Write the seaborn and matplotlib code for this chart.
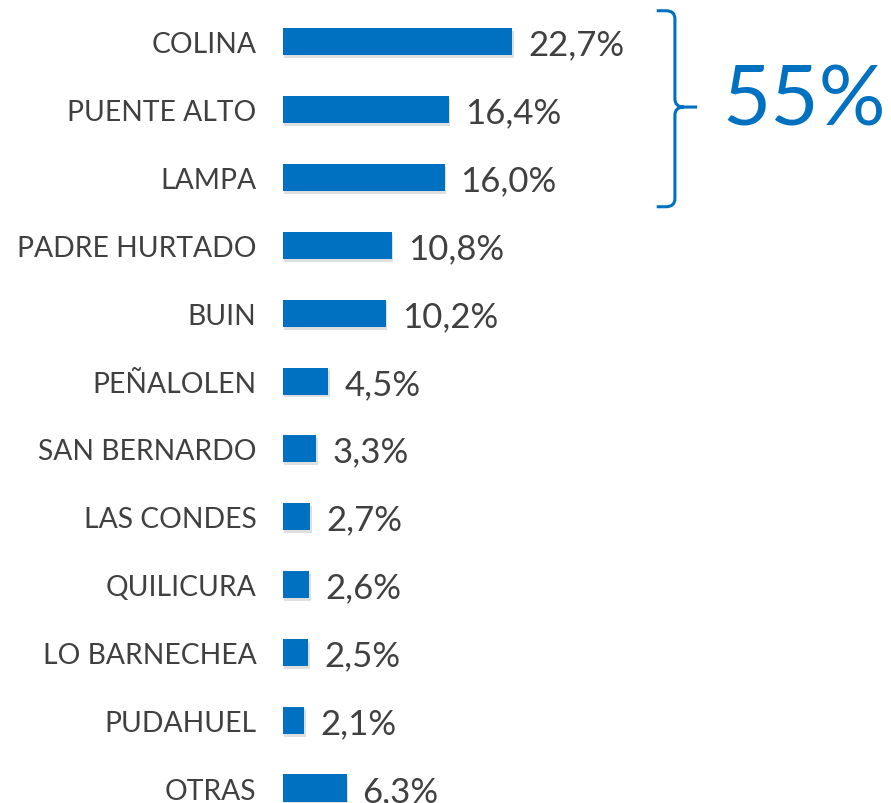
import matplotlib
matplotlib.use("Agg")
import matplotlib.pyplot as plt
import matplotlib.patheffects as pe
from matplotlib.path import Path
from matplotlib.patches import PathPatch
import pandas as pd
import seaborn as sns

# data
comunas = ["COLINA", "PUENTE ALTO", "LAMPA", "PADRE HURTADO", "BUIN", "PEÑALOLEN",
           "SAN BERNARDO", "LAS CONDES", "QUILICURA", "LO BARNECHEA", "PUDAHUEL", "OTRAS"]
shares = [22.7, 16.4, 16.0, 10.8, 10.2, 4.5, 3.3, 2.7, 2.6, 2.5, 2.1, 6.3]
top3_total = "55%"

BLUE = "#0070C0"
TEXT = "#404040"

sns.set_theme(style="white")
plt.rcParams["font.family"] = ["Lato", "DejaVu Sans"]

df = pd.DataFrame({"comuna": comunas, "share": shares})

fig = plt.figure(figsize=(8.91, 8.04), dpi=100)
ax = fig.add_axes([283 / 891, -0.0236, 600 / 891, 1.0124])

sns.barplot(data=df, y="comuna", x="share", orient="h", color=BLUE,
            saturation=1, width=0.4, linewidth=0, ax=ax)

# soft drop shadow under the bars
for bar in ax.patches:
    bar.set_path_effects([pe.SimplePatchShadow(offset=(1, -2), alpha=0.2,
                                               shadow_rgbFace="#606060"),
                          pe.Normal()])

ax.set_xlim(0, 59.4)
ax.set_ylim(11.5, -0.5)
ax.set_xlabel("")
ax.set_ylabel("")
ax.set_xticks([])
sns.despine(ax=ax, left=True, bottom=True)
ax.tick_params(axis="y", length=0, pad=19, labelsize=20.3, labelcolor=TEXT)

for i, v in enumerate(shares):
    ax.annotate(f"{v:.1f}%".replace(".", ","), xy=(v, i), xytext=(11.5, -2),
                textcoords="offset points", ha="left", va="center",
                fontsize=25, color=TEXT, annotation_clip=False)

# curly brace around the first three bars
x0, xv, xt = 37.0, 38.8, 41.0
yt, ym, yb = -0.46, 0.96, 2.43
rx, ry = 0.9, 0.12
verts = [(x0, yt), (xv - rx, yt), (xv, yt), (xv, yt + ry),
         (xv, ym - ry), (xv, ym), (xv + rx, ym), (xt, ym),
         (xv + rx, ym), (xv, ym), (xv, ym + ry),
         (xv, yb - ry), (xv, yb), (xv - rx, yb), (x0, yb)]
codes = [Path.MOVETO, Path.LINETO, Path.CURVE3, Path.CURVE3,
         Path.LINETO, Path.CURVE3, Path.CURVE3, Path.LINETO,
         Path.MOVETO, Path.CURVE3, Path.CURVE3,
         Path.LINETO, Path.CURVE3, Path.CURVE3, Path.LINETO]
ax.add_patch(PathPatch(Path(verts, codes), fill=False, edgecolor=BLUE,
                       linewidth=2.2, clip_on=False, capstyle="butt"))

ax.text(43.5, 0.88, top3_total, ha="left", va="center", fontsize=60,
        color=BLUE, clip_on=False)

fig.savefig("out.png", dpi=100)
